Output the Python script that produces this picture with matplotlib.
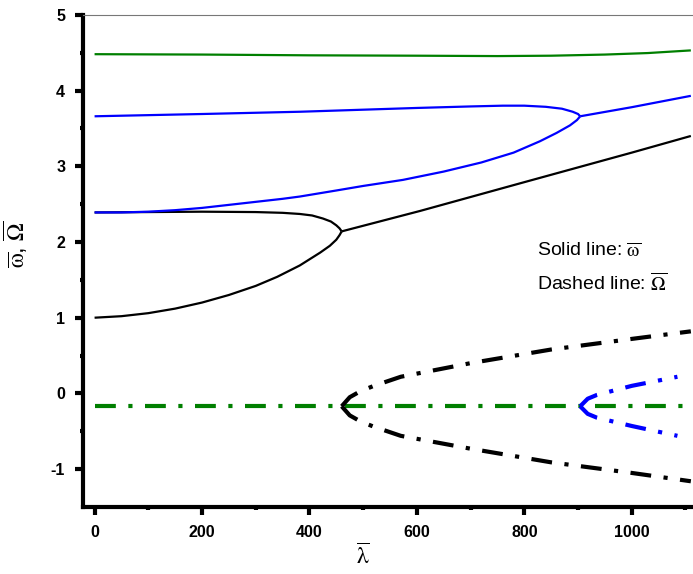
import matplotlib

matplotlib.use("Agg")
import matplotlib.pyplot as plt

plt.rcParams["font.family"] = ["Liberation Sans", "DejaVu Sans"]
plt.rcParams["mathtext.fontset"] = "stix"
plt.rcParams["mathtext.default"] = "rm"
plt.rcParams["axes.unicode_minus"] = False
plt.rcParams["lines.scale_dashes"] = False

# --- solid lines: omega bar ---
blk_lo_x = [0, 50, 100, 150, 200, 250, 300, 340, 382, 420, 438, 450, 456, 460]
blk_lo_y = [1.00, 1.02, 1.06, 1.12, 1.20, 1.30, 1.42, 1.54, 1.69, 1.86, 1.95, 2.03, 2.09, 2.14]
blk_up_x = [0, 200, 300, 350, 382, 405, 425, 440, 450, 456, 460]
blk_up_y = [2.39, 2.40, 2.395, 2.385, 2.37, 2.35, 2.31, 2.27, 2.22, 2.18, 2.14]
blk_after_x = [460, 606, 800, 1000, 1110]
blk_after_y = [2.14, 2.41, 2.79, 3.18, 3.40]

blu_up_x = [0, 200, 383, 600, 700, 760, 800, 840, 870, 890, 900, 904]
blu_up_y = [3.66, 3.69, 3.72, 3.77, 3.79, 3.80, 3.80, 3.785, 3.76, 3.72, 3.69, 3.66]
blu_lo_x = [0, 50, 100, 150, 200, 250, 300, 350, 382, 450, 500, 574, 650, 720,
            780, 829, 860, 885, 898, 904]
blu_lo_y = [2.39, 2.39, 2.40, 2.42, 2.45, 2.49, 2.53, 2.57, 2.60, 2.68, 2.74, 2.82,
            2.93, 3.05, 3.18, 3.33, 3.44, 3.54, 3.61, 3.66]
blu_after_x = [904, 1000, 1110]
blu_after_y = [3.66, 3.78, 3.93]

grn_x = [0, 200, 400, 600, 750, 850, 950, 1030, 1110]
grn_y = [4.48, 4.475, 4.465, 4.46, 4.455, 4.46, 4.475, 4.495, 4.53]

# --- dashed lines: Omega bar ---
grn_d_x = [0, 1100]
grn_d_y = [-0.17, -0.17]
blk_d_up_x = [460, 475, 495, 520, 570, 700, 850, 1000, 1110]
blk_d_up_y = [-0.17, -0.05, 0.03, 0.10, 0.22, 0.40, 0.58, 0.72, 0.82]
blk_d_lo_x = [460, 475, 495, 520, 570, 700, 850, 1000, 1110]
blk_d_lo_y = [-0.17, -0.29, -0.37, -0.44, -0.56, -0.73, -0.91, -1.05, -1.16]
blu_d_up_x = [904, 918, 935, 1000, 1085]
blu_d_up_y = [-0.17, -0.07, -0.02, 0.10, 0.22]
blu_d_lo_x = [904, 918, 935, 1000, 1085]
blu_d_lo_y = [-0.17, -0.27, -0.32, -0.43, -0.56]

fig = plt.figure(figsize=(6.93, 5.74), dpi=100)
ax = fig.add_axes([0.1202, 0.1167, 0.8798, 0.8575])

GREEN = "#007f00"
BLUE = "#0000ff"
solid = dict(lw=1.6, solid_capstyle="butt", solid_joinstyle="round")
for xs, ys, c in [(blk_lo_x, blk_lo_y, "k"), (blk_up_x, blk_up_y, "k"),
                  (blk_after_x, blk_after_y, "k"),
                  (blu_up_x, blu_up_y, BLUE), (blu_lo_x, blu_lo_y, BLUE),
                  (blu_after_x, blu_after_y, BLUE),
                  (grn_x, grn_y, GREEN)]:
    ax.plot(xs, ys, color=c, **solid)

dash = dict(lw=3.0, dashes=(15, 9, 3, 9), dash_capstyle="butt")
ax.plot(grn_d_x, grn_d_y, color=GREEN, **dash)
for xs, ys, c in [(blk_d_up_x, blk_d_up_y, "k"), (blk_d_lo_x, blk_d_lo_y, "k"),
                  (blu_d_up_x, blu_d_up_y, BLUE), (blu_d_lo_x, blu_d_lo_y, BLUE)]:
    ax.plot(xs, ys, color=c, **dash)

ax.set_xlim(-21, 1114)
ax.set_ylim(-1.5, 5)
ax.set_xticks([0, 200, 400, 600, 800, 1000])
ax.set_xticks(range(100, 1101, 200), minor=True)
ax.set_yticks([-1, 0, 1, 2, 3, 4, 5])
ax.set_yticks([-0.5, 0.5, 1.5, 2.5, 3.5, 4.5], minor=True)

for s in ["left", "bottom"]:
    ax.spines[s].set_linewidth(3)
ax.spines["top"].set_linewidth(0.8)
ax.spines["top"].set_color("#777777")
ax.spines["right"].set_visible(False)
ax.tick_params(which="major", direction="out", length=6, width=3,
               labelsize=11.5, pad=7)
ax.tick_params(which="minor", direction="out", length=2.5, width=3)
for lab in ax.get_xticklabels() + ax.get_yticklabels():
    lab.set_fontweight("bold")

ax.set_xlabel(r"$\overline{\lambda}$", fontsize=17)
ax.xaxis.set_label_coords(0.459, -0.075)
ax.set_ylabel(r"$\overline{\omega}$, $\overline{\Omega}$", fontsize=17)
ax.yaxis.set_label_coords(-0.087, 0.534)

ax.text(824, 1.88, r"Solid line: $\overline{\omega}$", fontsize=14,
        ha="left", va="center")
ax.text(824, 1.46, r"Dashed line: $\overline{\Omega}$", fontsize=14,
        ha="left", va="center")

fig.savefig("out.png", dpi=100)
